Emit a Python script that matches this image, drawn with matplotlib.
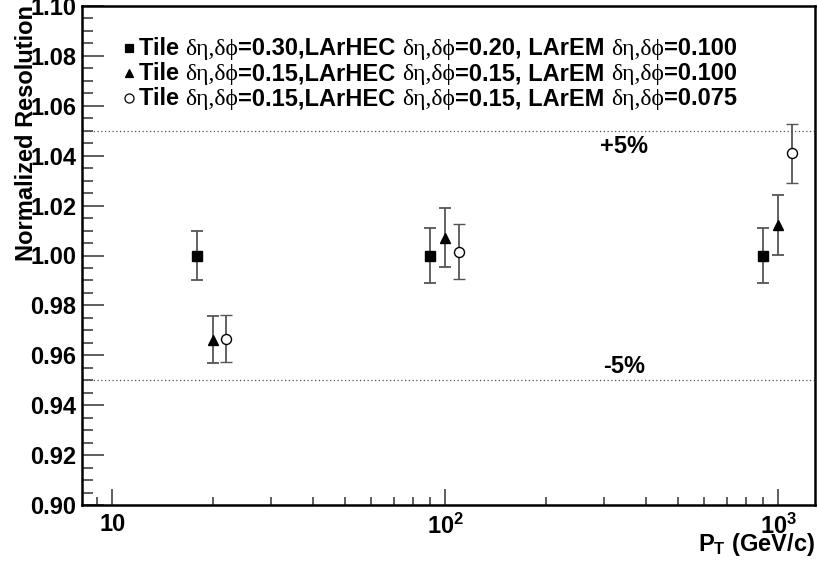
import matplotlib
matplotlib.use("Agg")
import matplotlib.pyplot as plt
from matplotlib.ticker import FixedLocator, NullFormatter
from matplotlib.offsetbox import TextArea, DrawingArea, HPacker, VPacker, AnchoredOffsetbox
from matplotlib.lines import Line2D

plt.rcParams['font.family'] = ['Liberation Sans', 'DejaVu Sans']
plt.rcParams['font.weight'] = 'bold'
plt.rcParams['mathtext.fontset'] = 'custom'
plt.rcParams['mathtext.rm'] = 'Liberation Sans:bold'
plt.rcParams['mathtext.bf'] = 'Liberation Sans:bold'
plt.rcParams['mathtext.it'] = 'Liberation Sans:bold'

# jet pT points and normalized resolution for three granularity settings
pt_square = [18, 90, 900]
res_square = [1.000, 1.000, 1.000]
err_square = [0.010, 0.011, 0.0112]

pt_triangle = [20, 100, 1000]
res_triangle = [0.9663, 1.0072, 1.0124]
err_triangle = [0.0093, 0.012, 0.012]

pt_circle = [22, 110, 1100]
res_circle = [0.9667, 1.0016, 1.0409]
err_circle = [0.0093, 0.011, 0.012]

legend_rows = [
    ('s', 'k', ["Tile ", "=0.30,LArHEC ", "=0.20, LArEM ", "=0.100"]),
    ('^', 'k', ["Tile ", "=0.15,LArHEC ", "=0.15, LArEM ", "=0.100"]),
    ('o', 'w', ["Tile ", "=0.15,LArHEC ", "=0.15, LArEM ", "=0.075"]),
]
greek = "δη,δϕ"

band_hi = 1.05
band_lo = 0.95

x_ticks = [10, 100, 1000]
x_tick_labels = ["10", r"$\mathbf{10^{2}}$", r"$\mathbf{10^{3}}$"]

FS = 17

fig = plt.figure(figsize=(8.17, 5.62), dpi=100)
ax = fig.add_axes([82 / 817, 57 / 562, 733 / 817, 499 / 562])

ekw = dict(ls='none', ecolor='#555555', elinewidth=1.3, capsize=4, capthick=1.3)
ax.errorbar(pt_square, res_square, yerr=err_square, marker='s', ms=6.8,
            mfc='k', mec='k', **ekw)
ax.errorbar(pt_triangle, res_triangle, yerr=err_triangle, marker='^', ms=7,
            mfc='k', mec='k', **ekw)
ax.errorbar(pt_circle, res_circle, yerr=err_circle, marker='o', ms=7.2,
            mfc='w', mec='k', mew=1.0, **ekw)

ax.axhline(band_hi, color='#555555', lw=0.9, ls=(0, (1, 2)))
ax.axhline(band_lo, color='#555555', lw=0.9, ls=(0, (1, 2)))
ax.text(345, 1.0435, "+5%", fontsize=FS, fontweight='bold', ha='center', va='center')
ax.text(345, 0.9555, "-5%", fontsize=FS, fontweight='bold', ha='center', va='center')

ax.set_xscale('log')
ax.set_xlim(8.1, 1290)
ax.set_ylim(0.90, 1.10)

ax.xaxis.set_major_locator(FixedLocator(x_ticks))
ax.set_xticklabels(x_tick_labels)
minors = [m * d for d in (1, 10, 100) for m in range(2, 10)]
ax.xaxis.set_minor_locator(FixedLocator(minors))
ax.xaxis.set_minor_formatter(NullFormatter())

ax.set_yticks([0.90 + 0.02 * i for i in range(11)])
ax.yaxis.set_minor_locator(FixedLocator([0.90 + 0.005 * i for i in range(41)]))
ax.set_yticklabels([f"{0.90 + 0.02 * i:.2f}" for i in range(11)])

ax.tick_params(axis='both', which='both', direction='in', colors='#333333',
               labelcolor='k', top=False, right=False)
ax.tick_params(axis='y', which='major', length=15.5, width=1.1, labelsize=FS, pad=4)
ax.tick_params(axis='y', which='minor', length=8, width=1.1)
ax.tick_params(axis='x', which='major', length=11.5, width=1.1, labelsize=FS, pad=6)
ax.tick_params(axis='x', which='minor', length=6, width=1.1)

for sp in ax.spines.values():
    sp.set_linewidth(1.8)
    sp.set_color('k')

# legend with mixed fonts: bold sans for text, serif for the greek symbols
rows = []
for marker, fc, parts in legend_rows:
    da = DrawingArea(12, 10, 0, 0)
    da.add_artist(Line2D([5], [5], marker=marker, ms=5.5 if marker != 'o' else 6.5,
                         mfc=fc, mec='k', mew=0.9, ls='none'))
    pieces = [da]
    for i, p in enumerate(parts):
        pieces.append(TextArea(p, textprops=dict(fontsize=FS, fontweight='bold',
                                                  family='Liberation Sans')))
        if i < len(parts) - 1:
            pieces.append(TextArea(greek, textprops=dict(fontsize=FS, fontweight='normal',
                                                          family=['Liberation Serif', 'DejaVu Serif'])))
    rows.append(HPacker(children=pieces, align='baseline', pad=0, sep=0))
box = VPacker(children=rows, align='left', pad=0, sep=1.5)
anch = AnchoredOffsetbox(loc='upper left', child=box, frameon=False,
                         bbox_to_anchor=(0.055, 0.938), bbox_transform=ax.transAxes,
                         borderpad=0, pad=0)
ax.add_artist(anch)

fig.text(27 / 817, 1 - 5 / 562, "Normalized Resolution", rotation=90,
         ha='center', va='top', fontsize=FS, fontweight='bold')
fig.text(815 / 817, 1 - 558 / 562, r"$\mathbf{P_T}$ (GeV/c)", ha='right', va='bottom',
         fontsize=FS, fontweight='bold')

fig.savefig("out.png", dpi=100)
